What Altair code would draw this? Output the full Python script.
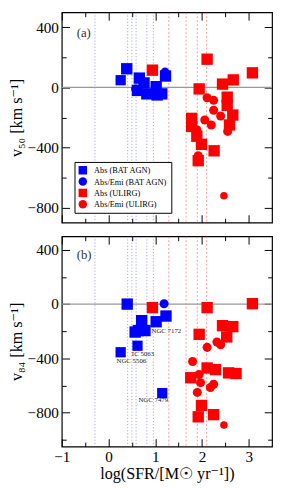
import altair as alt
import pandas as pd

FONT = "Liberation Serif, DejaVu Serif, serif"
GROUPS = ["Abs (BAT AGN)", "Abs/Emi (BAT AGN)", "Abs (ULIRG)", "Abs/Emi (ULIRG)"]

# vertical reference lines, log(SFR)
bat_sfr_lines = [-0.29, 0.41, 0.50, 0.59, 0.82, 0.96]
ulirg_sfr_lines = [1.29, 1.66, 1.90, 2.10]

# ---------- panel (a): v50 ----------
a_bat_abs_x = [0.39, 0.26, 0.66, 0.76, 0.62, 0.82, 1.02, 1.04, 1.14, 1.22]
a_bat_abs_y = [124, 48, 62, 30, -20, -43, 5, -50, -43, 76]
a_bat_abs_small = [0, 1, 0, 0, 0, 0, 0, 0, 0, 0]
a_bat_emi_x = [0.58, 1.21]
a_bat_emi_y = [-10, 102]
a_bat_emi_small = [0, 0]
a_ul_abs_x = [0.94, 2.11, 3.08, 2.67, 2.44, 1.94, 2.54, 2.54, 2.66, 1.78, 1.78, 2.59, 1.89, 1.99, 2.26, 1.92]
a_ul_abs_y = [115, 188, 97, 50, 22, -10, -65, -119, -184, -206, -260, -250, -325, -379, -422, -488]
a_ul_abs_small = [0] * 16
a_ul_emi_x = [2.11, 2.25, 2.25, 2.06, 2.20, 2.40, 1.89, 2.55, 1.92, 2.47]
a_ul_emi_y = [-69, -86, -152, -217, -250, -190, -282, -293, -455, -721]
a_ul_emi_small = [0, 0, 0, 0, 0, 0, 0, 0, 0, 1]

# ---------- panel (b): v84 ----------
b_bat_abs_x = [0.40, 0.71, 0.64, 0.78, 1.02, 1.23, 0.57, 0.62, 0.26, 1.15]
b_bat_abs_y = [0, -122, -195, -195, -130, -88, -206, -307, -355, -656]
b_bat_abs_small = [0, 0, 0, 0, 0, 0, 0, 1, 1, 1]
b_bat_emi_x = [1.19]
b_bat_emi_y = [3]
b_bat_emi_small = [0]
b_ul_abs_x = [0.94, 2.11, 3.08, 2.44, 2.66, 2.53, 1.94, 2.11, 2.29, 2.57, 1.76, 2.73, 1.99, 1.92, 2.25]
b_ul_abs_y = [-26, -26, 3, -159, -166, -242, -223, -471, -483, -507, -543, -512, -747, -831, -815]
b_ul_abs_small = [0] * 15
b_ul_emi_x = [2.32, 2.11, 1.80, 1.94, 1.97, 2.25, 2.18, 1.90, 2.47, 2.40]
b_ul_emi_y = [-279, -319, -423, -519, -579, -591, -615, -651, -891, -300]
b_ul_emi_small = [0, 0, 0, 0, 0, 0, 0, 0, 1, 0]

b_names = ["NGC 7172", "IC 5063", "NGC 5506", "NGC 7479"]
b_names_x = [0.92, 0.50, 0.17, 0.64]
b_names_y = [-202, -368, -418, -707]

panel_tags = ["(a)", "(b)"]
x_major = [-1, 0, 1, 2, 3]
x_minor = [-0.5, 0.5, 1.5, 2.5]
y_major = [-800, -400, 0, 400]
a_y_minor = [-600, -200, 200]
b_y_minor = [-1000, -600, -200, 200]


def build(sets):
    rows = []
    for (xs, ys, sm), g in zip(sets, GROUPS):
        shp = "sq" if "Abs (" in g else "ci"
        for x, y, s in zip(xs, ys, sm):
            rows.append({"x": x, "y": y, "group": g, "sz": shp + ("S" if s else "L")})
    return pd.DataFrame(rows)


df_a = build([(a_bat_abs_x, a_bat_abs_y, a_bat_abs_small),
              (a_bat_emi_x, a_bat_emi_y, a_bat_emi_small),
              (a_ul_abs_x, a_ul_abs_y, a_ul_abs_small),
              (a_ul_emi_x, a_ul_emi_y, a_ul_emi_small)])
df_b = build([(b_bat_abs_x, b_bat_abs_y, b_bat_abs_small),
              (b_bat_emi_x, b_bat_emi_y, b_bat_emi_small),
              (b_ul_abs_x, b_ul_abs_y, b_ul_abs_small),
              (b_ul_emi_x, b_ul_emi_y, b_ul_emi_small)])


def axis(orient, values, major, labels=False, title=None, **kw):
    size = 8 if major else 4.5
    d = dict(orient=orient, values=values, tickSize={"expr": str(-size)}, domain=False,
             grid=False, labels=labels, tickColor="black", tickWidth=1, title=title,
             minExtent=0)
    if labels:
        d.update(labelFont=FONT, labelFontSize=15.5, labelColor="black", labelPadding=size + 3.5,
                 labelFlush=False, labelOverlap=False)
    if title:
        d.update(titleFont=FONT, titleFontSize=16.5, titleFontWeight="normal", titleColor="black",
                 titleBaseline="middle")
    d.update(kw)
    return alt.Axis(**d)


def panel(df, ydom, ymin, ytitle, tag, xlabels, legend, names=None):
    xs = alt.Scale(domain=[-1, 3.5], nice=False, zero=False)
    ys = alt.Scale(domain=ydom, nice=False, zero=False)
    vb = alt.Chart(pd.DataFrame({"x": bat_sfr_lines})).mark_rule(
        color="#4040ff", strokeDash=[1.2, 2], strokeWidth=0.8, opacity=0.6
    ).encode(x=alt.X("x:Q", scale=xs, axis=None))
    vr = alt.Chart(pd.DataFrame({"x": ulirg_sfr_lines})).mark_rule(
        color="#ff3030", strokeDash=[2, 2], strokeWidth=0.8, opacity=0.6
    ).encode(x=alt.X("x:Q", scale=xs, axis=None))
    zero = alt.Chart(pd.DataFrame({"y": [0]})).mark_rule(
        color="#999999", strokeWidth=1.3
    ).encode(y=alt.Y("y:Q", scale=ys, axis=None))
    if xlabels:
        xb = axis("bottom", x_major, True, labels=True, title="log(SFR/[M☉ yr⁻¹])",
                  titleX=107.5, titleY=28)
    else:
        xb = axis("bottom", x_major, True)
    yl = axis("left", y_major, True, labels=True, title=ytitle, titleX=-46, titleY=107.5)
    leg = alt.Legend(title=None, orient="none", legendX=13, legendY=153, strokeColor="black",
                     fillColor="white", padding=4, cornerRadius=0, labelFont=FONT,
                     labelFontSize=8.5, labelColor="black", symbolSize=75, rowPadding=2.6,
                     labelOffset=7, symbolStrokeWidth=0, symbolOpacity=1) if legend else None
    pts = alt.Chart(df).mark_point(filled=True, opacity=1, strokeWidth=0).encode(
        x=alt.X("x:Q", scale=xs, axis=xb),
        y=alt.Y("y:Q", scale=ys, axis=yl),
        color=alt.Color("group:N", scale=alt.Scale(domain=GROUPS, range=["#0000ff", "#0000ff", "#ff0000", "#ff0000"]), legend=leg),
        shape=alt.Shape("group:N", scale=alt.Scale(domain=GROUPS, range=["square", "circle", "square", "circle"]), legend=leg),
        size=alt.Size("sz:N", scale=alt.Scale(domain=["sqL", "sqS", "ciL", "ciS"], range=[135, 60, 110, 50]), legend=None),
    )
    g1 = alt.Chart(df).mark_point(opacity=0).encode(
        x=alt.X("x:Q", scale=xs, axis=axis("bottom", x_minor, False)),
        y=alt.Y("y:Q", scale=ys, axis=axis("left", ymin, False)))
    g2 = alt.Chart(df).mark_point(opacity=0).encode(
        x=alt.X("x:Q", scale=xs, axis=axis("top", x_major, True)),
        y=alt.Y("y:Q", scale=ys, axis=axis("right", y_major, True)))
    g3 = alt.Chart(df).mark_point(opacity=0).encode(
        x=alt.X("x:Q", scale=xs, axis=axis("top", x_minor, False)),
        y=alt.Y("y:Q", scale=ys, axis=axis("right", ymin, False)))
    tg = alt.Chart(pd.DataFrame({"x": [-0.68], "y": [360], "t": [tag]})).mark_text(
        align="left", baseline="middle", font=FONT, fontSize=13, color="#333333"
    ).encode(x=alt.X("x:Q", scale=xs, axis=None), y=alt.Y("y:Q", scale=ys, axis=None), text="t:N")
    layers = [vb, vr, zero, g1, g2, g3, pts, tg]
    if names is not None:
        nm = alt.Chart(names).mark_text(
            align="left", baseline="middle", font=FONT, fontSize=7, color="#222222"
        ).encode(x=alt.X("x:Q", scale=xs, axis=None), y=alt.Y("y:Q", scale=ys, axis=None), text="t:N")
        layers.append(nm)
    return alt.layer(*layers).resolve_scale(
        x="independent", y="independent", color="independent", shape="independent", size="independent"
    ).properties(width=215, height=215)


names_df = pd.DataFrame({"x": b_names_x, "y": b_names_y, "t": b_names})
top = panel(df_a, [-900, 500], a_y_minor, "v₅₀ [km s⁻¹]", panel_tags[0], False, True)
bot = panel(df_b, [-1050, 500], b_y_minor, "v₈₄ [km s⁻¹]", panel_tags[1], True, False, names_df)

chart = alt.vconcat(top, bot, spacing=10).resolve_scale(
    color="independent", shape="independent", size="independent"
).properties(
    padding={"left": 0, "top": -3, "right": 0, "bottom": 0}
).configure_view(stroke="black", strokeWidth=1.2)

chart.save("out.html", embed_options={"renderer": "svg", "actions": False})
